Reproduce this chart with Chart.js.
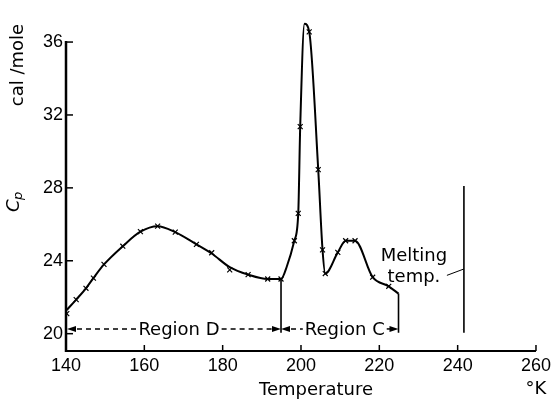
<!DOCTYPE html>
<html>
<head>
<meta charset="utf-8">
<script src="https://cdn.jsdelivr.net/npm/chart.js@4.4.0/dist/chart.umd.min.js"></script>
<style>
  html, body { margin: 0; padding: 0; background: #fff; }
</style>
</head>
<body>
<canvas id="cpChart" width="555" height="401"></canvas>
<script>
// measured points (the x markers)
const tempMeasured = [140.2, 142.6, 145.1, 147.0, 149.7, 154.5, 159.0, 163.4, 167.9, 173.3, 177.2, 181.8, 186.5, 191.5, 194.9,
    198.3, 199.3, 199.8, 202.1, 204.4, 205.5, 206.2, 209.4, 211.4, 213.8, 218.3, 222.4];
const cpMeasured = [21.1, 21.87, 22.49, 23.05, 23.8, 24.8, 25.6, 25.9, 25.57, 24.9, 24.44, 23.5, 23.24, 23.0, 23.0,
    25.1, 26.6, 31.36, 36.56, 29.0, 24.6, 23.3, 24.46, 25.1, 25.1, 23.1, 22.6];

// the drawn curve
const tempCurve = [140.2, 142.6, 145.1, 147.0, 149.7, 154.5, 159.0, 163.4, 167.9, 173.3, 177.2, 181.8, 186.5, 191.5, 194.9,
    196.4, 198.3, 199.3, 199.8, 200.9, 202.1, 204.4, 205.5, 206.2, 209.4, 211.4, 213.8, 218.3, 222.4, 224.9];
const cpCurve = [21.3, 21.87, 22.49, 23.05, 23.8, 24.8, 25.6, 25.9, 25.57, 24.9, 24.4, 23.65, 23.24, 23.0, 23.0,
    23.7, 25.1, 26.6, 31.36, 37.0, 36.56, 29.0, 24.6, 23.3, 24.46, 25.1, 25.1, 23.1, 22.6, 22.2];

const xTicks = [140, 160, 180, 200, 220, 240, 260];
const yTicks = [20, 24, 28, 32, 36];

// regions and vertical marker lines
const regionNames = ['Region D', 'Region C'];
const regionFrom = [140, 194.9];
const regionTo = [194.9, 224.9];
const boundaryTemps = [194.9, 224.9, 241.6];
const boundaryTop = [23.0, 22.2, 28.1];
const boundaryBottom = 20.05;
const meltingLabel = ['Melting', 'temp.'];

const toPoints = (xs, ys) => xs.map((x, i) => ({ x: x, y: ys[i] }));

const textFont = '18px "DejaVu Sans"';
const numFont = { family: 'Liberation Sans', size: 18 };

// axes, inward ticks, labels and arrows
const decor = {
    id: 'decor',
    afterDatasetsDraw(chart) {
        const { ctx, scales: { x, y } } = chart;
        const x0 = x.getPixelForValue(xTicks[0]);
        const yb = y.bottom;
        ctx.save();
        ctx.strokeStyle = '#000';
        ctx.fillStyle = '#000';

        ctx.lineWidth = 2.5;
        ctx.beginPath();
        ctx.moveTo(x0, y.getPixelForValue(yTicks[yTicks.length - 1]) - 1);
        ctx.lineTo(x0, yb + 1);
        ctx.stroke();
        ctx.lineWidth = 2;
        ctx.beginPath();
        ctx.moveTo(x0 - 1, yb);
        ctx.lineTo(x.getPixelForValue(xTicks[xTicks.length - 1]), yb);
        ctx.stroke();

        ctx.lineWidth = 1.5;
        yTicks.forEach(v => {
            const py = y.getPixelForValue(v);
            ctx.beginPath(); ctx.moveTo(x0, py); ctx.lineTo(x0 + 7, py); ctx.stroke();
        });
        xTicks.slice(1).forEach(v => {
            const px = x.getPixelForValue(v);
            ctx.beginPath(); ctx.moveTo(px, yb); ctx.lineTo(px, yb - 6); ctx.stroke();
        });

        // region arrows
        const ay = y.getPixelForValue(20.26);
        const head = (tip, dir) => {
            ctx.setLineDash([]);
            ctx.beginPath();
            ctx.moveTo(tip, ay);
            ctx.lineTo(tip + dir * 9, ay - 3);
            ctx.lineTo(tip + dir * 9, ay + 3);
            ctx.closePath();
            ctx.fill();
        };
        const dash = (a, b) => {
            if (b <= a) return;
            ctx.setLineDash([5, 4]);
            ctx.lineWidth = 1.5;
            ctx.beginPath(); ctx.moveTo(a, ay); ctx.lineTo(b, ay); ctx.stroke();
        };
        ctx.font = textFont;
        ctx.textAlign = 'center';
        ctx.textBaseline = 'middle';
        regionNames.forEach((name, i) => {
            const l = x.getPixelForValue(regionFrom[i]) + (i === 0 ? 1 : 0);
            const r = x.getPixelForValue(regionTo[i]);
            const w = ctx.measureText(name).width;
            const cx = (l + r) / 2 + 5;
            dash(l + 10, cx - w / 2 - 2);
            dash(cx + w / 2 + 2, r - 8);
            head(l, 1);
            head(r, -1);
            ctx.fillText(name, cx, ay + 1);
        });
        ctx.setLineDash([]);

        // melting temp label
        const mx = x.getPixelForValue(boundaryTemps[2]);
        ctx.fillText(meltingLabel[0], mx - 50, y.getPixelForValue(24.24));
        ctx.fillText(meltingLabel[1], mx - 50, y.getPixelForValue(23.07));
        ctx.lineWidth = 1;
        ctx.beginPath();
        ctx.moveTo(mx - 17, y.getPixelForValue(23.2));
        ctx.lineTo(mx, y.getPixelForValue(23.55));
        ctx.stroke();

        // axis titles
        ctx.fillText('Temperature', (x.left + x.right) / 2 + 15, yb + 39);
        ctx.fillText('°K', x.getPixelForValue(xTicks[xTicks.length - 1]), yb + 38);

        ctx.save();
        ctx.translate(18, 65);
        ctx.rotate(-Math.PI / 2);
        ctx.fillText('cal /mole', 0, 0);
        ctx.restore();

        ctx.save();
        ctx.translate(14, 203);
        ctx.rotate(-Math.PI / 2);
        ctx.textAlign = 'left';
        ctx.font = 'italic 18px "DejaVu Sans"';
        ctx.fillText('C', -9, 0);
        ctx.font = 'italic 13px "DejaVu Sans"';
        ctx.fillText('p', 3, 5);
        ctx.restore();

        ctx.restore();
    }
};

const boundarySets = boundaryTemps.map((t, i) => ({
    data: [{ x: t, y: boundaryTop[i] }, { x: t, y: boundaryBottom }],
    borderColor: '#000',
    borderWidth: 1.6,
    pointRadius: 0,
    fill: false
}));

new Chart(document.getElementById('cpChart'), {
    type: 'line',
    data: {
        datasets: [
            {
                label: 'curve',
                data: toPoints(tempCurve, cpCurve),
                borderColor: '#000',
                borderWidth: 2,
                pointRadius: 0,
                cubicInterpolationMode: 'monotone',
                fill: false
            },
            {
                label: 'measured',
                data: toPoints(tempMeasured, cpMeasured),
                showLine: false,
                pointStyle: 'crossRot',
                pointRadius: 3.5,
                borderColor: '#000',
                borderWidth: 1.2
            },
            ...boundarySets
        ]
    },
    options: {
        responsive: false,
        animation: false,
        layout: { padding: { top: 2, right: 19, left: 0, bottom: 0 } },
        plugins: { legend: { display: false }, tooltip: { enabled: false } },
        scales: {
            x: {
                type: 'linear',
                min: 140,
                max: 260,
                grid: { display: false, drawTicks: false },
                border: { display: false },
                ticks: { color: '#000', font: numFont, padding: 4, maxRotation: 0, autoSkip: false },
                afterBuildTicks: s => { s.ticks = xTicks.map(v => ({ value: v })); },
                afterFit: s => { s.height = 50; }
            },
            y: {
                min: 19.05,
                max: 37.55,
                grid: { display: false, drawTicks: false },
                border: { display: false },
                ticks: { color: '#000', font: numFont, padding: 3 },
                afterBuildTicks: s => { s.ticks = yTicks.map(v => ({ value: v })); },
                afterFit: s => { s.width = 66; }
            }
        }
    },
    plugins: [decor]
});
</script>
</body>
</html>
